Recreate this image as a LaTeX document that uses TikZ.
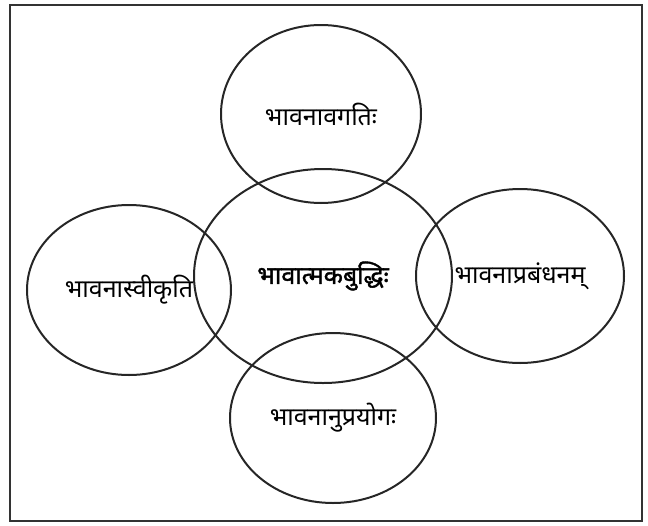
\documentclass[tikz,border=0pt]{standalone}
\usepackage{fontspec}
\usepackage{tikz}
\usetikzlibrary{shapes.geometric}
\newfontfamily\devfont[Script=Devanagari]{Noto Sans}
\newfontfamily\devbold[Script=Devanagari,FakeBold=1.6]{Noto Sans}

\begin{document}
\begin{tikzpicture}[
  x=1pt, y=-1pt,
  font=\devfont\fontsize{25}{30}\selectfont,
  idea/.style={ellipse, draw=black!85, line width=2pt, inner sep=0pt},
  core/.style={idea, font=\devbold\fontsize{25}{30}\selectfont},
  frame/.style={draw=black!80, line width=2pt}
]
\useasboundingbox (0,0) rectangle (648,525);
\draw[frame] (10,5) rectangle (642,521);

\node[core, minimum width=258pt, minimum height=214pt] (buddhi) at (323,276) {भावात्मकबुद्धिः};
\node[idea, minimum width=200pt, minimum height=178pt] (avagati) at (321,114) {भावनावगतिः};
\node[idea, minimum width=204pt, minimum height=170pt] (svikriti) at (129,290) {भावनास्वीकृति};
\node[idea, minimum width=208pt, minimum height=174pt] (prabandhan) at (520,276) {भावनाप्रबंधनम्};
\node[idea, minimum width=206pt, minimum height=170pt] (prayog) at (333,418) {भावनानुप्रयोगः};
\end{tikzpicture}
\end{document}
